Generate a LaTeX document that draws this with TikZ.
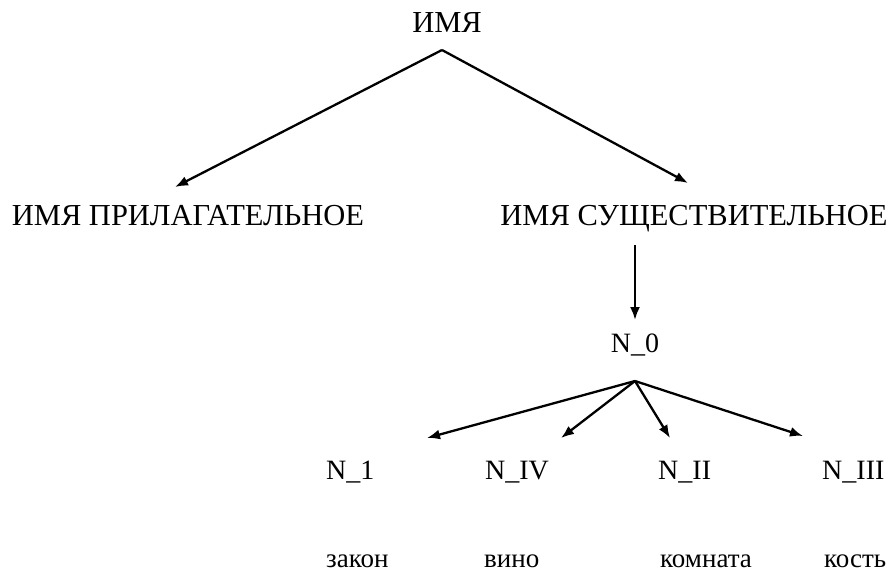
\documentclass[tikz,border=0pt]{standalone}
\usepackage{fontspec}
\setmainfont{Liberation Serif}
\usetikzlibrary{positioning,arrows.meta,calc}

\begin{document}
\begin{tikzpicture}[x=1pt, y=-1pt,
        every node/.style={font=\fontsize{30.5}{33}\selectfont, inner sep=0pt, text=black},
        NL/.style={font=\fontsize{28}{30}\selectfont, anchor=base west},
        WD/.style={font=\fontsize{27}{30}\selectfont, anchor=base west},
        arr/.style={-{Latex[length=13pt,width=10pt]}, line width=2.3pt},
      ]
      \useasboundingbox (0,0) rectangle (893,582);

      % Main nodes
      \node[anchor=base] (root) at (447,32)  {ИМЯ};
      \node[anchor=base] (adj)  at (188,225) {ИМЯ ПРИЛАГАТЕЛЬНОЕ};
      \node[anchor=base] (noun) at (694,225) {ИМЯ СУЩЕСТВИТЕЛЬНОЕ};
      \node[anchor=base, font=\fontsize{28}{30}\selectfont] (n0) at (635,352) {N\_0};

      \node[NL] (n1) at (326,479) {N\_1};
      \node[NL] (n4) at (485,479) {N\_IV};
      \node[NL] (n2) at (658,479) {N\_II};
      \node[NL] (n3) at (822,479) {N\_III};

      % Words
      \node[WD] (w1) at (326,567) {закон};
      \node[WD] (w4) at (484,567) {вино};
      \node[WD] (w2) at (660,567) {комната};
      \node[WD] (w3) at (824,567) {кость};

      % Branch helper coordinates
      \coordinate (rootFork) at ($(root.base)+(-5,18)$);
      \coordinate (nFork) at ($(n0.base)+(0,29)$);

      % Arrows
      \draw[arr] (rootFork) -- ($(adj.base)+(-13,-38)$);
      \draw[arr] (rootFork) -- ($(noun.base)+(-6,-42)$);
      \draw[arr] ($(noun.base -| n0.base)+(0,20)$) -- ($(n0.base)+(0,-32)$);

      \draw[arr] (nFork) -- ($(n1.base west)+(101,-41)$);
      \draw[arr] (nFork) -- ($(n4.base west)+(76,-41)$);
      \draw[arr] (nFork) -- ($(n2.base west)+(12,-41)$);
      \draw[arr] (nFork) -- ($(n3.base west)+(-19,-43)$);

    \end{tikzpicture}
\end{document}
